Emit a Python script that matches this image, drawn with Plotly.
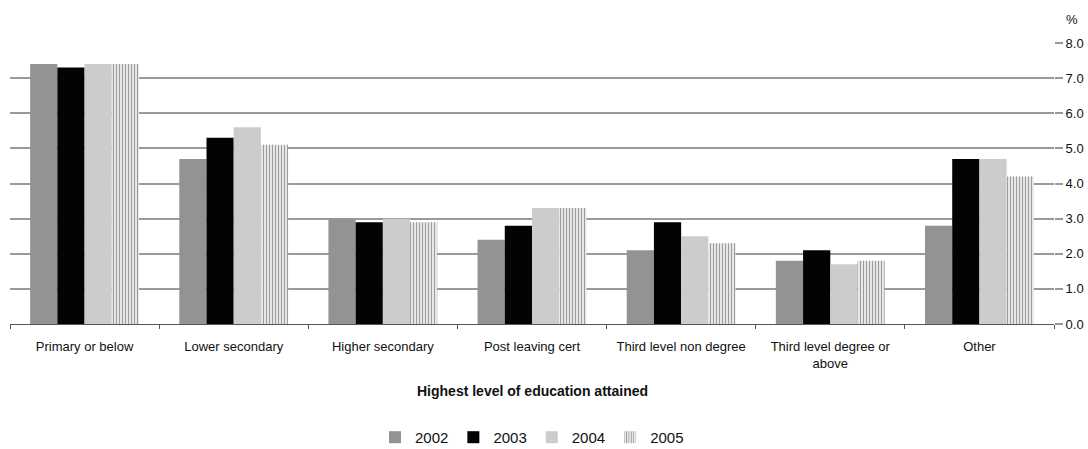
import plotly.graph_objects as go

categories = ['Primary or below', 'Lower secondary', 'Higher secondary', 'Post leaving cert',
              'Third level non degree', 'Third level degree or<br>above', 'Other']
years = ['2002', '2003', '2004', '2005']
v2002 = [7.4, 4.7, 3.0, 2.4, 2.1, 1.8, 2.8]
v2003 = [7.3, 5.3, 2.9, 2.8, 2.9, 2.1, 4.7]
v2004 = [7.4, 5.6, 3.0, 3.3, 2.5, 1.7, 4.7]
v2005 = [7.4, 5.1, 2.9, 3.3, 2.3, 1.8, 4.2]
y_ticks = [0, 1, 2, 3, 4, 5, 6, 7, 8]

font = 'Liberation Sans, Arial, sans-serif'

fig = go.Figure()
fig.add_trace(go.Bar(x=categories, y=v2002, name=years[0], marker=dict(color='#939393', line_width=0)))
fig.add_trace(go.Bar(x=categories, y=v2003, name=years[1], marker=dict(color='#030303', line_width=0)))
fig.add_trace(go.Bar(x=categories, y=v2004, name=years[2], marker=dict(color='#cccccc', line_width=0)))
fig.add_trace(go.Bar(x=categories, y=v2005, name=years[3],
                     marker=dict(color='white', line_width=0,
                                 pattern=dict(shape='|', fgcolor='#3a3a3a', bgcolor='white',
                                              size=3, solidity=0.5))))

fig.update_layout(
	width=1088, height=449,
	paper_bgcolor='white', plot_bgcolor='white',
	margin=dict(l=10, r=34, t=43, b=125, autoexpand=False),
	barmode='group', bargap=0.27, bargroupgap=0,
	font=dict(family=font, size=13, color='#111'),
	showlegend=True,
	legend=dict(orientation='h', x=0.5, xanchor='center', y=-0.345, yanchor='top',
				font=dict(size=15), traceorder='normal', itemwidth=30, tracegroupgap=0),
)
fig.update_xaxes(
	automargin=False,
	showline=True, linecolor='#555', linewidth=1,
	ticks='outside', tickson='boundaries', ticklen=4, tickcolor='#555',
	tickfont=dict(size=13), ticklabelstandoff=10,
)
fig.update_yaxes(
	automargin=False,
	side='right', range=[0, 8], tickvals=y_ticks, tickformat='.1f',
	showgrid=True, gridcolor='#9a9a9a', gridwidth=2,
	ticks='outside', ticklen=8, tickcolor='#9a9a9a', tickwidth=2,
	tickfont=dict(size=13), zeroline=False, showline=False,
)
fig.add_annotation(text='%', xref='paper', yref='paper', x=1.0, y=1.0, xanchor='left', yanchor='bottom',
				   xshift=10, yshift=14, showarrow=False, font=dict(size=13))
fig.add_annotation(text='<b>Highest level of education attained</b>', xref='paper', yref='paper',
				   x=0.5, y=0, yshift=-67, xanchor='center', yanchor='middle', showarrow=False,
				   font=dict(size=14))

# the page has a default 8px body margin, drop it so the figure fills the window
fig.write_html("out.html", config={'displayModeBar': False},
			   post_script="document.body.style.margin='0';")
